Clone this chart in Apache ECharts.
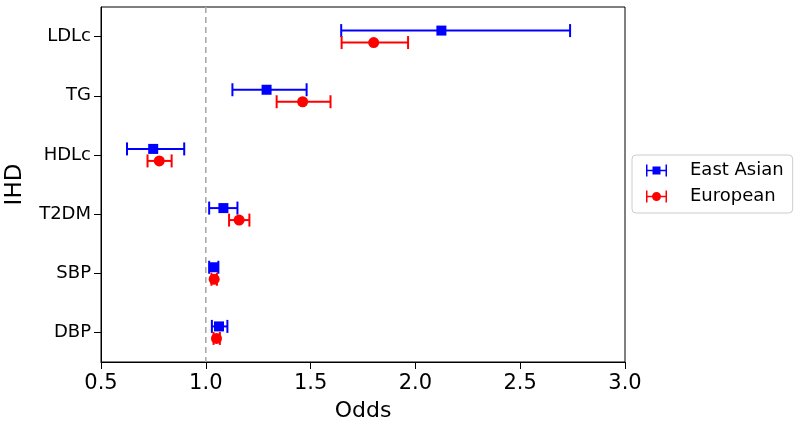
<!DOCTYPE html>
<html>
<head>
<meta charset="utf-8">
<script src="https://cdn.jsdelivr.net/npm/echarts@6/dist/echarts.min.js"></script>
<style>html,body{margin:0;padding:0;background:#fff}#c{width:800px;height:425px}</style>
</head>
<body>
<div id="c"></div>
<script>
const categories = ['LDLc', 'TG', 'HDLc', 'T2DM', 'SBP', 'DBP'];
const eastAsianOR   = [2.124, 1.290, 0.749, 1.084, 1.038, 1.063];
const eastAsianLow  = [1.646, 1.127, 0.624, 1.016, 1.016, 1.029];
const eastAsianHigh = [2.738, 1.481, 0.897, 1.151, 1.060, 1.103];
const europeanOR    = [1.801, 1.462, 0.778, 1.159, 1.040, 1.051];
const europeanLow   = [1.648, 1.338, 0.722, 1.111, 1.027, 1.037];
const europeanHigh  = [1.965, 1.595, 0.837, 1.208, 1.053, 1.067];
const xTicks = [0.5, 1.0, 1.5, 2.0, 2.5, 3.0];
const refLine = 1.0;

const FONT = 'DejaVu Sans';
const BLUE = '#0000ff', RED = '#ff0000';

function errorBar(color, dy) {
  return function (params, api) {
    const lo = api.coord([api.value(0), api.value(2)]);
    const hi = api.coord([api.value(1), api.value(2)]);
    const y = lo[1] + dy;
    const cap = 6.5;
    const style = { stroke: color, lineWidth: 2 };
    return {
      type: 'group',
      children: [
        { type: 'line', shape: { x1: lo[0], y1: y, x2: hi[0], y2: y }, style: style },
        { type: 'line', shape: { x1: lo[0], y1: y - cap, x2: lo[0], y2: y + cap }, style: style },
        { type: 'line', shape: { x1: hi[0], y1: y - cap, x2: hi[0], y2: y + cap }, style: style }
      ]
    };
  };
}

function refRender(params, api) {
  const cs = params.coordSys;
  const x = api.coord([api.value(0), 0])[0];
  return {
    type: 'line',
    shape: { x1: x, y1: cs.y, x2: x, y2: cs.y + cs.height },
    style: { stroke: '#aaaaaa', lineWidth: 1.6, lineDash: [6, 4] }
  };
}

const eaBars = categories.map((c, i) => [eastAsianLow[i], eastAsianHigh[i], i]);
const euBars = categories.map((c, i) => [europeanLow[i], europeanHigh[i], i]);
const eaPts = categories.map((c, i) => [eastAsianOR[i], i]);
const euPts = categories.map((c, i) => [europeanOR[i], i]);

const iconSquare = 'path://M0,0h1.5v12h-1.5z M19.5,0h1.5v12h-1.5z M0,5.25h21v1.5h-21z M6.5,2h8v8h-8z';
const iconCircle = 'path://M0,0h1.5v12h-1.5z M19.5,0h1.5v12h-1.5z M0,5.25h21v1.5h-21z M15,6A4.5,4.5 0 1,1 6,6A4.5,4.5 0 1,1 15,6z';

const chart = echarts.init(document.getElementById('c'), null, { renderer: 'canvas' });
chart.setOption({
  animation: false,
  backgroundColor: '#fff',
  textStyle: { fontFamily: FONT },
  grid: { left: 101, right: 175, top: 7, bottom: 63, containLabel: false, outerBoundsMode: 'none', show: true, borderColor: '#000', borderWidth: 1, backgroundColor: 'transparent' },
  legend: {
    orient: 'vertical',
    left: 632, top: 155,
    padding: [5, 9, 6, 14],
    itemGap: 5,
    itemWidth: 21, itemHeight: 12,
    borderColor: '#cccccc', borderWidth: 1, borderRadius: 4,
    backgroundColor: '#fff',
    textStyle: { fontFamily: FONT, fontSize: 18, lineHeight: 21, color: '#000', padding: [0, 0, 0, 18] },
    data: [
      { name: 'East Asian', icon: iconSquare, itemStyle: { color: BLUE } },
      { name: 'European', icon: iconCircle, itemStyle: { color: RED } }
    ]
  },
  xAxis: {
    type: 'value', min: 0.5, max: 3.0, interval: 0.5,
    name: 'Odds', nameLocation: 'middle', nameGap: 38,
    nameTextStyle: { fontFamily: FONT, fontSize: 22, color: '#000' },
    axisLine: { show: true, lineStyle: { color: '#000', width: 1 } },
    axisTick: { show: true, length: 7, inside: false, lineStyle: { color: '#000' } },
    axisLabel: { fontFamily: FONT, fontSize: 21, color: '#000', margin: 11, formatter: v => xTicks.includes(v) ? v.toFixed(1) : '' },
    splitLine: { show: false }
  },
  yAxis: {
    type: 'category', data: categories, inverse: true, boundaryGap: true,
    name: 'IHD', nameLocation: 'middle', nameGap: 74,
    nameTextStyle: { fontFamily: FONT, fontSize: 23, color: '#000' },
    axisLine: { show: true, lineStyle: { color: '#000', width: 1 } },
    axisTick: { show: true, alignWithLabel: true, length: 7, lineStyle: { color: '#000' } },
    axisLabel: { fontFamily: FONT, fontSize: 18, color: '#000', margin: 10 },
    splitLine: { show: false }
  },
  series: [
    { type: 'custom', name: 'ref', renderItem: refRender, data: [[refLine]], encode: { x: 0 }, z: 2, silent: true },
    { type: 'custom', name: 'eaErr', renderItem: errorBar(BLUE, -6), data: eaBars, encode: { x: [0, 1], y: 2 }, z: 3 },
    { type: 'custom', name: 'euErr', renderItem: errorBar(RED, 6), data: euBars, encode: { x: [0, 1], y: 2 }, z: 3 },
    { type: 'scatter', name: 'East Asian', data: eaPts, symbol: 'rect', symbolSize: 10, symbolOffset: [0, -6], itemStyle: { color: BLUE, opacity: 1 }, z: 4 },
    { type: 'scatter', name: 'European', data: euPts, symbol: 'circle', symbolSize: 11, symbolOffset: [0, 6], itemStyle: { color: RED, opacity: 1 }, z: 4 }
  ]
});
</script>
</body>
</html>
